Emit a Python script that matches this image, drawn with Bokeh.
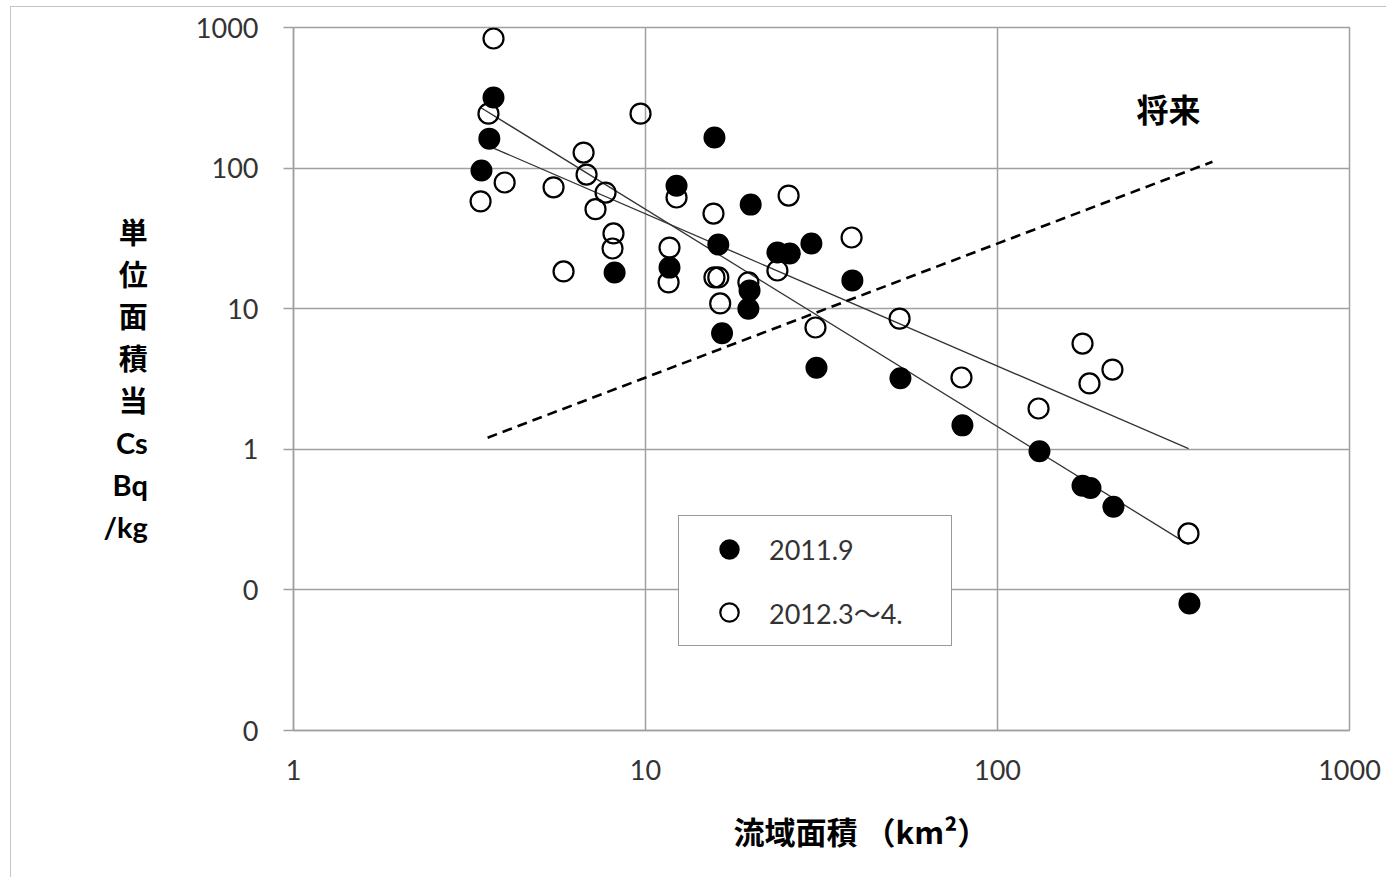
from bokeh.plotting import figure
from bokeh.models import (Range1d, FixedTicker, NumeralTickFormatter, Label,
                          Legend, LegendItem, Title)
from bokeh.embed import file_html
from bokeh.resources import INLINE

# ---------------- data ----------------
# 2011.9 survey (filled circles): catchment area km2, Cs Bq/kg per unit area
area_2011 = [3.42, 3.60, 3.70, 8.17, 11.7, 12.25, 15.7, 16.1, 16.5, 19.9,
             19.75, 19.6, 23.7, 25.7, 29.6, 30.6, 38.7, 53.0, 79.5, 131.6,
             174.4, 183.7, 213.5, 351.0]
cs_2011 = [96, 162, 318, 18.1, 19.6, 75, 165, 28.6, 6.7, 55,
           13.5, 10.0, 25.1, 24.7, 29.1, 3.8, 15.9, 3.2, 1.48, 0.97,
           0.55, 0.53, 0.39, 0.080]

# 2012.3~4 survey (open circles)
area_2012 = [3.70, 3.58, 9.68, 6.67, 6.80, 7.70, 7.21, 8.11, 8.06, 5.85,
             3.98, 3.40, 5.48, 11.7, 11.63, 12.25, 15.6, 25.5, 38.5, 15.7,
             16.1, 16.3, 19.6, 23.7, 30.4, 52.7, 79.0, 174.4, 212.1, 182.5,
             130.8, 348.8]
cs_2012 = [835, 244, 244, 129, 90, 67, 51, 34.3, 26.8, 18.4,
           79, 58, 73, 27.2, 15.4, 61.8, 47.5, 63.8, 32.1, 16.7,
           16.7, 10.9, 15.4, 18.7, 7.35, 8.5, 3.24, 5.65, 3.69, 2.94,
           1.95, 0.252]

# power-law trend lines (end points)
trend_x = [3.40, 349.0]
trend_steep_y = [270, 0.21]
trend_flat_y = [152, 1.01]

# "future" dashed line
future_x = [3.56, 408.0]
future_y = [1.21, 111.0]

x_ticks = [1, 10, 100, 1000]
y_ticks = [0.01, 0.1, 1, 10, 100, 1000]

series_labels = ["2011.9", "2012.3～4."]
y_title_cjk = ["単", "位", "面", "積", "当"]
y_title_unit = ["Cs", "Bq", "/kg"]
x_title = "流域面積 （km²）"
future_label = "将来"

# ---------------- styling ----------------
GRID = "#a0a0a0"
TXT = "#333333"
LAT = "Lato"
CJK = "Noto Sans CJK JP"
MIX = "Lato, 'Noto Sans CJK JP'"
EDGE = "#c4c4c4"

p = figure(width=1386, height=877, x_axis_type="log", y_axis_type="log",
           x_range=Range1d(1, 1000), y_range=Range1d(0.01, 1000),
           output_backend="svg", toolbar_location=None,
           min_border_left=293, min_border_right=37,
           min_border_top=27, min_border_bottom=147)
p.background_fill_color = "white"
p.border_fill_alpha = 0.0
# thin light-grey chart-area edge (top and left), as in the reference
p.styles = {
    "background": (f"linear-gradient({EDGE},{EDGE}) 10px 6px / 1px 100% no-repeat, "
                   f"linear-gradient({EDGE},{EDGE}) 10px 6px / 100% 1px no-repeat, "
                   "white"),
}
p.outline_line_color = GRID
p.outline_line_width = 1.5

p.xaxis.ticker = FixedTicker(ticks=x_ticks, minor_ticks=[])
p.yaxis.ticker = FixedTicker(ticks=y_ticks, minor_ticks=[])
for ax in (p.xaxis[0], p.yaxis[0]):
    ax.formatter = NumeralTickFormatter(format="0")
    ax.axis_line_color = GRID
    ax.axis_line_width = 1.5
    ax.major_tick_line_color = GRID
    ax.major_tick_line_width = 1.5
    ax.minor_tick_line_color = None
    ax.major_tick_in = 0
    ax.major_label_text_font = LAT
    ax.major_label_text_font_size = "27px"
    ax.major_label_text_color = TXT
p.xaxis.major_tick_out = 0
p.xaxis.major_label_standoff = 29
p.yaxis.major_tick_out = 10
p.yaxis.major_label_standoff = 25

# y-axis title: stacked characters, horizontal
p.yaxis.axis_label = "\n".join(y_title_cjk + y_title_unit)
p.yaxis.axis_label_orientation = "horizontal"
p.yaxis.axis_label_text_font = MIX
p.yaxis.axis_label_text_font_style = "bold"
p.yaxis.axis_label_text_font_size = "29px"
p.yaxis.axis_label_text_color = "black"
p.yaxis.axis_label_text_line_height = 1.2
p.yaxis.axis_label_standoff = 45

for g in (p.xgrid[0], p.ygrid[0]):
    g.grid_line_color = GRID
    g.grid_line_width = 1.5

# trend lines and future line
p.line(trend_x, trend_steep_y, line_color="#333333", line_width=1.3)
p.line(trend_x, trend_flat_y, line_color="#333333", line_width=1.3)
p.line(future_x, future_y, line_color="black", line_width=2.6,
       line_dash="10 6")

r_open = p.scatter(area_2012, cs_2012, marker="circle", size=20,
                   fill_color=None, line_color="black", line_width=2.2)
r_fill = p.scatter(area_2011, cs_2011, marker="circle", size=20,
                   fill_color="black", line_color="black", line_width=2)

legend = Legend(
    items=[LegendItem(label=series_labels[0], renderers=[r_fill]),
           LegendItem(label=series_labels[1], renderers=[r_open])],
    location=(385, 84), orientation="vertical", margin=0, padding=10,
    spacing=17, glyph_width=80, glyph_height=46, label_height=46,
    label_width=172, label_standoff=0,
    label_text_font=MIX, label_text_font_size="27px",
    label_text_color=TXT, border_line_color="#333333", border_line_width=1.2,
    background_fill_color="white", background_fill_alpha=1.0)
p.add_layout(legend)

# x-axis title
p.add_layout(Title(text=x_title, align="left", offset=440, standoff=47,
                   text_font=CJK, text_font_style="bold",
                   text_font_size="31px", text_color="black"), "below")

# "future" label
p.add_layout(Label(x=875, y=623, x_units="screen", y_units="screen",
                   text=future_label, text_font=CJK, text_font_style="bold",
                   text_font_size="32px", text_align="center",
                   text_baseline="middle", text_color="black"))

open("out.html", "w").write(file_html(p, INLINE))
